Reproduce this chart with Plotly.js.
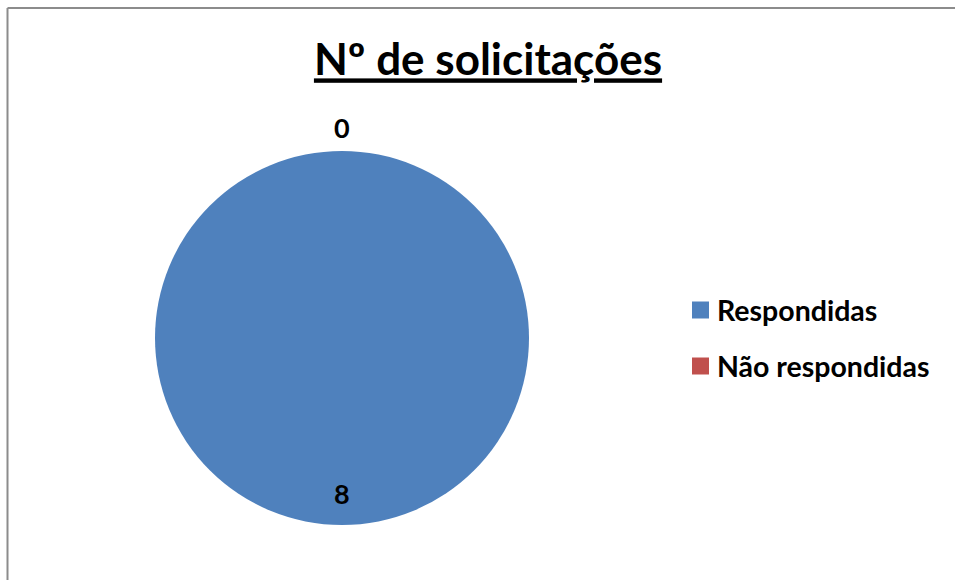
<!DOCTYPE html>
<html>
<head>
<meta charset="utf-8">
<script src="https://cdn.plot.ly/plotly-3.0.1.min.js"></script>
<style>html,body{margin:0;padding:0;background:#fff;}#chart{width:955px;height:580px;}</style>
</head>
<body>
<div id="chart"></div>
<script>
var categories = ["Respondidas", "Não respondidas"];
var values = [8, 0];
var colors = ["#4F81BD", "#C0504D"];
var chartTitle = "Nº de solicitações";

var W = 955, H = 580;
var cx = 342, cy = 338, r = 187;
var FONT = "Lato, 'Open Sans', sans-serif";

var trace = {
  type: "pie",
  labels: categories,
  values: values,
  marker: {colors: colors, line: {width: 0}},
  sort: false,
  direction: "clockwise",
  rotation: 0,
  textinfo: "none",
  hoverinfo: "label+value",
  showlegend: false,
  domain: {x: [(cx - r) / W, (cx + r) / W], y: [(H - cy - r) / H, (H - cy + r) / H]}
};

function px(x) { return x / W; }
function py(y) { return 1 - y / H; }

// value labels (text from data)
var labelPos = [[cx, 493], [cx, 127]];
var annotations = values.map(function (v, i) {
  return {
    xref: "paper", yref: "paper",
    x: px(labelPos[i][0]), y: py(labelPos[i][1]),
    text: "<b>" + v + "</b>",
    showarrow: false,
    font: {family: FONT, size: 27, color: "#000"},
    xanchor: "center", yanchor: "middle"
  };
});

// legend built from the category and colour arrays
var legX = 692, legY0 = 310, legStep = 56, sq = 17;
var shapes = [
  {type: "line", xref: "paper", yref: "paper", x0: px(7.5), x1: px(7.5), y0: -0.05, y1: py(8), line: {color: "#8C8C8C", width: 2}},
  {type: "line", xref: "paper", yref: "paper", x0: px(7.5), x1: 1.05, y0: py(8), y1: py(8), line: {color: "#8C8C8C", width: 2}}
];
categories.forEach(function (c, i) {
  var yc = legY0 + i * legStep;
  shapes.push({
    type: "rect", xref: "paper", yref: "paper",
    x0: px(legX), x1: px(legX + sq), y0: py(yc + sq / 2), y1: py(yc - sq / 2),
    fillcolor: colors[i], line: {width: 0}
  });
  annotations.push({
    xref: "paper", yref: "paper",
    x: px(legX + sq + 6), y: py(yc),
    text: "<b>" + c + "</b>",
    showarrow: false,
    font: {family: FONT, size: 28.5, color: "#000"},
    xanchor: "left", yanchor: "middle"
  });
});

var layout = {
  width: W, height: H,
  margin: {l: 0, r: 0, t: 0, b: 0},
  paper_bgcolor: "#fff",
  title: {
    text: "<b><u>" + chartTitle + "</u></b>",
    font: {family: FONT, size: 44, color: "#000"},
    x: px(488), xanchor: "center",
    y: py(60), yanchor: "middle"
  },
  showlegend: false,
  annotations: annotations,
  shapes: shapes
};

Plotly.newPlot("chart", [trace], layout, {displayModeBar: false});
</script>
</body>
</html>
